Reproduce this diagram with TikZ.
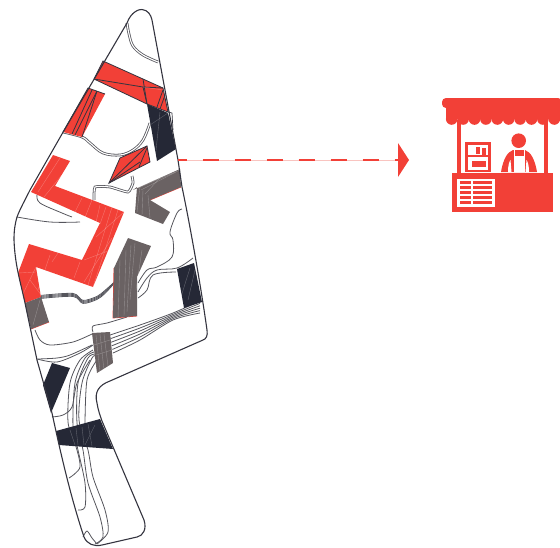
\documentclass[tikz,border=0pt]{standalone}
\definecolor{kred}{HTML}{F24037}
\definecolor{knavy}{HTML}{252836}
\definecolor{kgray}{HTML}{6A6263}
\definecolor{kline}{HTML}{34343F}
\definecolor{kcont}{HTML}{55555C}
\definecolor{kpale}{HTML}{F9C4C0}
\tikzset{
  edgeline/.style={draw=kline,line width=1.1pt,line join=round},
  contour/.style={draw=kcont,line width=0.8pt},
  road/.style={draw=kcont,line width=2.7pt,postaction={draw=white,line width=1.1pt}},
  dark/.style={draw=kline,line width=0.8pt},
  hair/.style={draw=white,line width=0.4pt,opacity=0.28},
  redfill/.style={fill=kred},
  navyfill/.style={fill=knavy},
  grayfill/.style={fill=kgray},
  wfill/.style={fill=white},
}
\begin{document}
\begin{tikzpicture}[x=1pt,y=-1pt]
\useasboundingbox (0,0) rectangle (560,547);
% contour lines
\draw[road] plot[smooth,tension=0.6] coordinates {(127,23)(129,34)(133,46)(143,55)(158,62)};
\draw[road] plot[smooth,tension=0.6] coordinates {(63,132)(82,137)(90,143)(103,153)(120,155)(133,150)(143,140)(150,123)};
\draw[road] plot[smooth,tension=0.3] coordinates {(94,200)(95,187)(110,187)(128,192)(133,183)(132,176)};
\draw[contour] plot[smooth,tension=0.6] coordinates {(37,195)(40,203)(62,213)(72,217)};
\draw[contour] plot[smooth,tension=0.6] coordinates {(17,217)(50,222)(80,222)};
\draw[contour] plot[smooth,tension=0.6] coordinates {(182,209)(177,213)(170,232)(173,240)(172,257)(157,267)(147,270)(138,283)};
\draw[contour] plot[smooth,tension=0.6] coordinates {(193,258)(177,268)(157,270)(147,278)(138,292)};
\draw[contour] plot[smooth,tension=0.6] coordinates {(176,272)(153,275)(147,290)(138,298)};
\foreach \d in {-1.6,-0.6,0.4,1.4}
  \draw[contour] plot[smooth,tension=0.5] coordinates {(41,{297+\d})(73,{295+\d})(83,{302+\d})(97,{298+\d})(105,{292+\d})(114,{283+\d*0.4})};
\foreach \t in {0,0.2,0.4,0.6,0.8,1}
  \draw[contour] plot[smooth,tension=0.5] coordinates {({110+3*\t},{335+18*\t})({140},{325+15*\t})({173},{313+7*\t})({200},{301+12*\t})};
\draw[contour] plot[smooth,tension=0.5] coordinates {(93,332)(93,326)(107,323)(127,317)};
\draw[contour] plot[smooth,tension=0.5] coordinates {(35,330)(40,340)(50,345)(73,342)(92,334)};
\draw[contour] plot[smooth,tension=0.5] coordinates {(38,359)(57,358)(70,355)(92,345)};
\draw[contour] plot[smooth,tension=0.5] coordinates {(37,359)(57,362)(80,353)(93,345)};
\draw[contour] plot[smooth,tension=0.5] coordinates {(93,350)(80,360)(70,383)(68,422)(75,443)(80,467)(69,478)};
\draw[contour] plot[smooth,tension=0.5] coordinates {(94,352)(85,358)(75,383)(73,427)(78,450)(85,483)(85,507)(78,510)};
\draw[contour] plot[smooth,tension=0.5] coordinates {(95,354)(88,358)(78,383)(77,423)(83,450)(88,483)(100,517)(103,537)(95,544)};
\draw[contour] plot[smooth,tension=0.5] coordinates {(96,356)(92,358)(82,383)(79,420)(88,450)(93,477)(105,510)(108,532)(97,544)};
\draw[contour] plot[smooth,tension=0.5] coordinates {(97,360)(87,380)(85,423)};
\draw[contour] plot[smooth,tension=0.5] coordinates {(52,417)(63,415)(72,407)(77,383)(90,360)};
\draw[contour] plot[smooth,tension=0.5] coordinates {(83,537)(87,531)(92,538)(97,544)};
% red shapes
\fill[redfill] (103,61)--(163,88)--(168,112)--(147,104)--(94,79)--cycle;
\fill[redfill] (88,88)--(105,94)--(82,137)--(63,132)--cycle;
\fill[redfill] (147,146)--(150,162)--(109,183)--(120,158)--cycle;
\fill[redfill] (53,155)--(70,161)--(55,186)--(124,212)--(93,287)--(36,267)--(41,297)--(25,303)--(18,273)--(29,244)--(82,260)--(100,223)--(31,192)--cycle;
% gray shapes (a thin red edge below)
\draw[kred,line width=0.8pt] (150,200)--(181,187);
\draw[kred,line width=0.8pt] (114,268)--(113,318)--(137,316);
\draw[kred,line width=0.8pt] (31,329)--(49,322);
\fill[grayfill] (133,190)--(180,169)--(181,187)--(150,200)--(170,212)--(163,224)--(135,213)--(137,187)--cycle;
\fill[grayfill] (41,297)--(49,322)--(31,329)--(25,303)--cycle;
\fill[grayfill] (128,238)--(151,246)--(137,277)--(137,316)--(113,318)--(114,268)--cycle;
\fill[grayfill] (92,333)--(110,332)--(113,363)--(97,373)--cycle;
% navy shapes
\fill[navyfill] (147,104)--(168,113)--(176,149)--(157,161)--cycle;
\fill[navyfill] (177,269)--(194,263)--(202,302)--(184,308)--cycle;
\fill[navyfill] (52,363)--(70,368)--(51,413)--(43,385)--cycle;
\fill[navyfill] (56,431)--(100,419)--(113,449)--(59,445)--cycle;
% dark lines on the red shapes
\draw[dark] (103,61)--(163,88)--(168,112)--(147,104)--(94,79)--cycle;
\draw[dark] (94,79)--(143,87)--(163,88);
\draw[dark] (143,79)--(147,104);
\draw[dark] (143,87)--(147,104);
\draw[dark] (163,90)--(157,107);
\draw[dark] (165,95)--(160,109);
\draw[dark] (63,132)--(88,88)--(105,94);
\draw[dark] (97,91)--(75,135);
\draw[dark] (92,90)--(72,134);
\draw[dark] (97,91)--(82,137);
\draw[dark] (147,146)--(150,162)--(109,183)--(120,158)--cycle;
\draw[dark] (109,183)--(147,146);
\draw[dark] (109,183)--(140,162);
\draw[dark] (147,148)--(139,167);
% pale hairlines
\draw[hair] (143,87)--(163,90);
\draw[hair] (150,125)--(168,113);
\draw[hair] (155,160)--(160,112);
\foreach \a/\b/\c/\e in {60/158/38/192,70/165/44/197,82/198/70/222,92/200/82/225,100/205/92/240,106/207/100/224,112/207/88/285,118/210/93/287,112/238/84/282,96/237/124/212,60/250/52/262,36/267/20/300,30/280/42/296,50/255/38/290,80/262/74/278,18/273/36/272,84/260/124/245}
  \draw[hair] (\a,\b)--(\c,\e);
\foreach \a/\b/\c/\e in {138/188/180/170,141/190/176/172,145/194/160/178,140/186/137/212,143/190/142/215,148/195/150/218,120/260/118/318,126/250/124/316,131/245/127/312,135/243/130/300,142/250/136/290,40/300/33/325,96/335/100/372,100/334/104/370,104/334/108/366,94/345/110/340,96/355/112/350,70/430/75/445,76/428/78/445,82/427/84/445,88/424/92/446,95/425/85/445,180/300/190/268,188/300/195/270}
  \draw[hair] (\a,\b)--(\c,\e);
% site outline
\draw[edgeline] (127,23) .. controls (131,12) and (139,9) .. (142,9.5) .. controls (148,10) and (151,15) .. (152,20)
  --(178,160)--(182,187)
  .. controls (188,215) and (200,280) .. (207,330)
  .. controls (208,336) and (206,339) .. (203,340)
  --(110,381)
  .. controls (99,385) and (94,392) .. (97,403)
  .. controls (98,410) and (100,415) .. (102,421)
  --(144,520)
  .. controls (147,529) and (143,536) .. (137,537)
  --(102,545)
  .. controls (94,547) and (87,544) .. (84,537)
  .. controls (70,495) and (60,450) .. (52,413)
  --(37,360)--(25,303)
  .. controls (20,280) and (15,265) .. (14,240)
  .. controls (14,230) and (15,224) .. (17,217)
  .. controls (20,209) and (25,200) .. (30,190)
  --(62,134)--cycle;
\draw[edgeline,line width=0.7pt] (168,112)--(172,113)--(173,130);
% arrow
\coordinate (arrowstart) at (178,160);
\coordinate (arrowtip) at (409,160);
\draw[kpale,line width=0.7pt] (arrowstart)--(398,160);
\draw[kred,line width=2.8pt,dash pattern=on 16pt off 16pt,dash phase=7.3pt] (arrowstart)--(399,160);
\fill[redfill] (398,143)--(arrowtip)--(398,177)--cycle;
% stall icon
\fill[redfill,rounded corners=4pt] (442,98) rectangle (562,108);
\fill[redfill] (446,103) rectangle (562,119);
\foreach \i in {0,...,10}
  \fill[redfill] ({451.7+\i*11.4},119) circle (5.8pt);
\fill[redfill] (457,120) rectangle (461,174);
\fill[redfill] (544,120) rectangle (548,174);
\fill[redfill] (452.3,173) rectangle (552.7,212);
\fill[wfill] (457,178.5) rectangle (495,207);
\foreach \y/\h in {181/3.3,186/3.3,191/3.3,196/2.8,201/3.3} {
  \fill[redfill] (460,\y) rectangle +(11,\h);
  \fill[redfill] (473,\y) rectangle +(19,\h);
}
\fill[redfill] (465,142) rectangle (490.7,172);
\fill[wfill] (467.5,144.5) rectangle (488.3,169.5);
\fill[redfill] (467.5,155) rectangle (488.3,157);
\fill[redfill] (476,147) rectangle (480,154);
\fill[redfill] (481.5,148) rectangle (486,155);
\fill[redfill] (472,160.5) rectangle (486,166.5);
\fill[redfill] (518.7,140.7) circle (7.3pt);
\fill[redfill] (501,172) .. controls (503,160) and (507,152) .. (513,150) -- (525,150) .. controls (531,152) and (535,160) .. (537,172) -- cycle;
\fill[wfill] (514,150) rectangle (525,172);
\fill[redfill] (515,150) rectangle (523.5,156);
\fill[wfill] (508,172) .. controls (508,166) and (509,162) .. (510.5,160) -- (511.5,172) -- cycle;
\fill[wfill] (529,172) .. controls (529,166) and (528,162) .. (526.5,160) -- (525.5,172) -- cycle;
\end{tikzpicture}
\end{document}
